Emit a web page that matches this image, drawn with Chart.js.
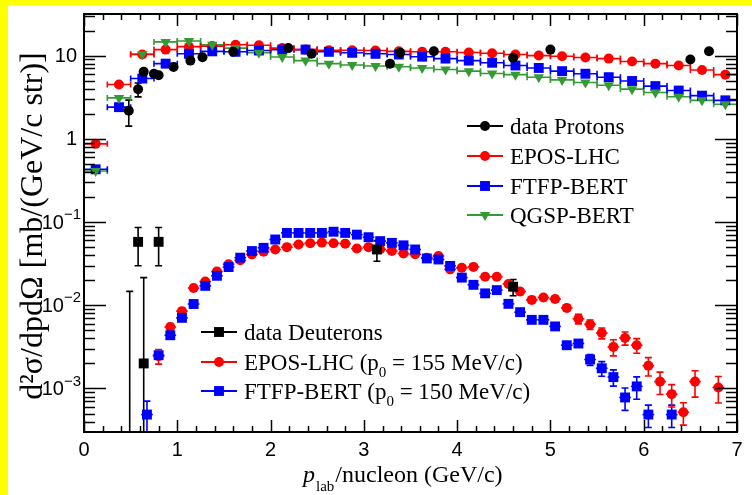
<!DOCTYPE html>
<html>
<head>
<meta charset="utf-8">
<script src="https://cdn.jsdelivr.net/npm/chart.js@4.4.0/dist/chart.umd.min.js"></script>
<style>
  html, body { margin: 0; padding: 0; background: #fff; }
</style>
</head>
<body>
<canvas id="chart" width="752" height="495"></canvas>
<script>
// ---- data ----

// proton bins, 0.25 GeV/c wide
const protonBins = [0.125, 0.375, 0.625, 0.875, 1.125, 1.375, 1.625, 1.875, 2.125, 2.375, 2.625, 2.875, 3.125, 3.375,
  3.625, 3.875, 4.125, 4.375, 4.625, 4.875, 5.125, 5.375, 5.625, 5.875, 6.125, 6.375, 6.625, 6.875];
const eposProton = [0.87, 4.5, 10.3, 11.8, 12.8, 13.0, 13.5, 13.3, 12.3, 11.8, 11.6, 11.6, 11.5, 11.25,
  11.1, 11.1, 10.9, 10.65, 10.3, 10.0, 9.8, 9.5, 9.2, 8.5, 8.0, 7.6, 6.7, 5.9];
const ftfpProton = [0.43, 2.4, 5.3, 8.0, 10.5, 11.25, 11.1, 11.5, 11.8, 11.8, 11.1, 10.8, 10.5, 10.3,
  9.7, 9.2, 8.7, 8.2, 7.6, 7.1, 6.5, 6.05, 5.5, 4.95, 4.3, 3.8, 3.3, 2.9];
const qgspProton = [0.41, 3.1, 10.4, 14.6, 15.0, 13.5, 12.3, 10.8, 9.6, 8.7, 8.0, 7.7, 7.5, 7.35,
  7.1, 6.8, 6.5, 6.1, 5.9, 5.5, 5.1, 4.75, 4.4, 3.95, 3.6, 3.2, 2.9, 2.6];

const dataProtonP = [0.48, 0.58, 0.64, 0.75, 0.80, 0.96, 1.14, 1.27, 1.60, 2.19, 2.44, 3.28, 3.39, 3.75, 4.60, 5.00, 6.50, 6.70];
const dataProtonV = [2.17, 3.94, 6.4, 6.05, 5.8, 7.3, 8.7, 9.55, 11.1, 12.3, 10.5, 8.0, 10.8, 11.25, 9.4, 11.8, 8.96, 11.25];
const dataProtonErr = [0.75, 0.75, 0.3, 0.3, 0.3, 0.3, 0.3, 0.3, 0.3, 0.3, 0.3, 0.3, 0.3, 0.3, 0.3, 0.3, 0.3, 0.3];

// deuteron bins, 0.125 GeV/c wide
const deutBins = [0.675, 0.8, 0.925, 1.05, 1.175, 1.3, 1.425, 1.55, 1.675, 1.8, 1.925, 2.05, 2.175, 2.3, 2.425,
  2.55, 2.675, 2.8, 2.925, 3.05, 3.175, 3.3, 3.425, 3.55, 3.675, 3.8, 3.925, 4.05, 4.175, 4.3, 4.425, 4.55,
  4.675, 4.8, 4.925, 5.05, 5.175, 5.3, 5.425, 5.55, 5.675, 5.8, 5.925, 6.05, 6.175, 6.3, 6.425, 6.55, 6.675, 6.8];
const eposDeut = [null, 0.00245, 0.00547, 0.0085, 0.0161, 0.0193, 0.0254, 0.031, 0.0347, 0.0409, 0.044, 0.0468,
  0.0499, 0.0537, 0.0557, 0.0566, 0.0557, 0.055, 0.048, 0.0499, 0.047, 0.0448, 0.0418, 0.041, 0.0373, 0.039,
  0.027, 0.0282, 0.0289, 0.022, 0.022, 0.018, 0.0146, 0.0116, 0.0124, 0.0119, 0.0093, 0.00687, 0.00589,
  0.00464, 0.00316, 0.00405, 0.00331, 0.00188, 0.00121, 0.000855, 0.000518, 0.00121, null, 0.00103];
const eposDeutRelErr = [0, 0.2, 0.1, 0.05, 0.05, 0.05, 0.05, 0.05, 0.05, 0.05, 0.05, 0.05,
  0.05, 0.05, 0.05, 0.05, 0.05, 0.05, 0.05, 0.05, 0.05, 0.05, 0.05, 0.05, 0.05, 0.05,
  0.05, 0.05, 0.05, 0.06, 0.06, 0.08, 0.08, 0.08, 0.08, 0.08, 0.08, 0.13, 0.13,
  0.15, 0.22, 0.18, 0.2, 0.25, 0.3, 0.3, 0.3, 0.35, 0, 0.35];
const ftfpDeut = [0.000486, 0.00251, 0.00436, 0.00706, 0.01035, 0.0171, 0.0226, 0.0288, 0.0373, 0.0448, 0.049,
  0.0617, 0.074, 0.074, 0.074, 0.074, 0.0765, 0.074, 0.0706, 0.0657, 0.059, 0.0562, 0.0525, 0.0468, 0.0365,
  0.0355, 0.0297, 0.0215, 0.0176, 0.0139, 0.0152, 0.0104, 0.00826, 0.00668, 0.00668, 0.00557, 0.00331,
  0.00347, 0.00223, 0.00175, 0.00137, 0.00078, 0.00106, 0.000486, null, 0.000486, null, null, null, null];
const ftfpDeutRelErr = [0.45, 0.1, 0.05, 0.05, 0.05, 0.05, 0.05, 0.05, 0.05, 0.05, 0.05,
  0.05, 0.05, 0.05, 0.05, 0.05, 0.05, 0.05, 0.05, 0.05, 0.05, 0.05, 0.05, 0.05, 0.05,
  0.05, 0.05, 0.05, 0.05, 0.06, 0.06, 0.06, 0.06, 0.06, 0.06, 0.06, 0.08,
  0.08, 0.15, 0.2, 0.22, 0.3, 0.3, 0.3, 0, 0.3, 0, 0, 0, 0];

const dataDeutP = [0.49, 0.58, 0.64, 0.80, 3.14, 4.60];
const dataDeutV = [0.0002, 0.0578, 0.0020, 0.0578, 0.0468, 0.0167];
const dataDeutErr = [0.0145, 0.028, 0.0195, 0.028, 0.013, 0.0037];

// axes
const xRange = [0, 7];
const yRange = [3.35e-4, 31.6];
const xTickLabels = ['0', '1', '2', '3', '4', '5', '6', '7'];
const yTickValues = [10, 1, 0.1, 0.01, 0.001];
const yTickBase = ['10', '1', '10', '10', '10'];
const yTickExp = ['', '', '\u22121', '\u22122', '\u22123'];

const RED = '#ff0000', BLUE = '#0000ff', GREEN = '#349a34', BLACK = '#000000';
const SERIF = '"Liberation Serif", "Times New Roman", serif';
const SANS = '"Liberation Sans", Arial, sans-serif';

function points(xs, ys) {
  return xs.map((x, i) => ({ x: x, y: ys[i] }));
}

// ---- drawing helpers ----
function marker(ctx, style, x, y, r, color) {
  ctx.fillStyle = color;
  ctx.beginPath();
  if (style === 'circle') {
    ctx.arc(x, y, r, 0, Math.PI * 2);
  } else if (style === 'rect') {
    const h = r * Math.SQRT1_2;
    ctx.rect(x - h, y - h, 2 * h, 2 * h);
  } else {
    // downward triangle
    ctx.moveTo(x - r * 0.866, y - r * 0.5);
    ctx.lineTo(x + r * 0.866, y - r * 0.5);
    ctx.lineTo(x, y + r);
    ctx.closePath();
  }
  ctx.fill();
}

function drawErrorBars(chart) {
  const { ctx, chartArea: a } = chart;
  const xs = chart.scales.x, ys = chart.scales.y;
  ctx.save();
  ctx.beginPath();
  ctx.rect(a.left, a.top, a.right - a.left, a.bottom - a.top);
  ctx.clip();
  chart.data.datasets.forEach(ds => {
    ctx.strokeStyle = ds.borderColor;
    ctx.lineWidth = 1.6;
    ds.data.forEach((pt, i) => {
      if (pt.y == null) return;
      const px = xs.getPixelForValue(pt.x);
      const py = ys.getPixelForValue(pt.y);
      if (ds.xErr) {
        const x1 = xs.getPixelForValue(pt.x - ds.xErr), x2 = xs.getPixelForValue(pt.x + ds.xErr);
        ctx.beginPath();
        ctx.moveTo(x1, py); ctx.lineTo(x2, py);
        if (ds.xCaps) {
          ctx.moveTo(x1, py - 3); ctx.lineTo(x1, py + 3);
          ctx.moveTo(x2, py - 3); ctx.lineTo(x2, py + 3);
        }
        ctx.stroke();
      }
      let lo = null, hi = null;
      if (ds.yErr) { lo = pt.y - ds.yErr[i]; hi = pt.y + ds.yErr[i]; }
      if (ds.yRel && ds.yRel[i]) { lo = pt.y * (1 - ds.yRel[i]); hi = pt.y * (1 + ds.yRel[i]); }
      if (hi != null) {
        const yHi = ys.getPixelForValue(hi);
        const yLo = lo > 0 ? ys.getPixelForValue(lo) : a.bottom + 5;
        ctx.beginPath();
        ctx.moveTo(px, yLo); ctx.lineTo(px, yHi);
        ctx.moveTo(px - 3.5, yHi); ctx.lineTo(px + 3.5, yHi);
        if (lo > 0) { ctx.moveTo(px - 3.5, yLo); ctx.lineTo(px + 3.5, yLo); }
        ctx.stroke();
      }
    });
  });
  ctx.restore();
}

function drawFrame(chart) {
  const { ctx, chartArea: a } = chart;
  const xs = chart.scales.x, ys = chart.scales.y;
  ctx.save();
  ctx.strokeStyle = '#000';
  ctx.lineWidth = 2;
  ctx.strokeRect(a.left, a.top, a.right - a.left, a.bottom - a.top);

  ctx.lineWidth = 1.5;
  ctx.beginPath();
  // x ticks, bottom and top, pointing inwards
  for (let k = 0; k <= 35; k++) {
    const v = xRange[0] + k * 0.2;
    const px = Math.round(xs.getPixelForValue(v)) + 0.5;
    const major = k % 5 === 0;
    const len = major ? 12 : 6;
    ctx.moveTo(px, a.bottom); ctx.lineTo(px, a.bottom - len);
    ctx.moveTo(px, a.top); ctx.lineTo(px, a.top + len);
  }
  // y ticks, left and right
  for (let e = -4; e <= 1; e++) {
    for (let m = 1; m <= 9; m++) {
      const v = m * Math.pow(10, e);
      if (v < yRange[0] || v > yRange[1]) continue;
      const py = Math.round(ys.getPixelForValue(v)) + 0.5;
      const len = m === 1 ? 22 : 11;
      ctx.moveTo(a.left, py); ctx.lineTo(a.left + len, py);
      ctx.moveTo(a.right, py); ctx.lineTo(a.right - len, py);
    }
  }
  ctx.stroke();
  ctx.restore();
}

function drawAxisText(chart) {
  const { ctx, chartArea: a } = chart;
  const xs = chart.scales.x, ys = chart.scales.y;
  ctx.save();
  ctx.fillStyle = '#000';

  // x tick labels
  ctx.font = '20px ' + SANS;
  ctx.textAlign = 'center';
  ctx.textBaseline = 'middle';
  xTickLabels.forEach((t, i) => {
    ctx.fillText(t, xs.getPixelForValue(i), a.bottom + 18);
  });

  // y tick labels with exponents
  ctx.textAlign = 'right';
  yTickValues.forEach((v, i) => {
    const py = ys.getPixelForValue(v);
    if (yTickExp[i]) {
      ctx.font = '15px ' + SANS;
      const ew = ctx.measureText(yTickExp[i]).width;
      ctx.fillText(yTickExp[i], 81, py - 7);
      ctx.font = '20px ' + SANS;
      ctx.fillText(yTickBase[i], 81 - ew, py + 1);
    } else {
      ctx.font = '20px ' + SANS;
      ctx.fillText(yTickBase[i], 77, py + 1);
    }
  });

  // x title: p_lab/nucleon (GeV/c)
  ctx.textAlign = 'left';
  ctx.textBaseline = 'alphabetic';
  let x = 303;
  const base = 482;
  ctx.font = 'italic 24px ' + SERIF;
  ctx.fillText('p', x, base);
  x += ctx.measureText('p').width + 1;
  ctx.font = '15px ' + SERIF;
  ctx.fillText('lab', x, base + 9);
  x += ctx.measureText('lab').width + 1;
  ctx.font = '24px ' + SERIF;
  ctx.fillText('/nucleon (GeV/c)', x, base);

  // y title
  ctx.save();
  ctx.translate(34, 226);
  ctx.rotate(-Math.PI / 2);
  ctx.textAlign = 'center';
  ctx.textBaseline = 'middle';
  ctx.font = '32px ' + SERIF;
  ctx.fillText('d\u00b2\u03c3/dpd\u03a9 [mb/(GeV/c str)]', 0, 0);
  ctx.restore();

  ctx.restore();
}

function legendRow(ctx, x1, x2, y, color, style, r, parts) {
  ctx.strokeStyle = color;
  ctx.lineWidth = 2;
  ctx.beginPath();
  ctx.moveTo(x1, y); ctx.lineTo(x2, y);
  ctx.stroke();
  marker(ctx, style, (x1 + x2) / 2, y, r, color);
  ctx.fillStyle = '#000';
  ctx.textAlign = 'left';
  ctx.textBaseline = 'alphabetic';
  let x = x2 + 7;
  parts.forEach(p => {
    ctx.font = (p.sub ? '15px ' : '23px ') + SERIF;
    ctx.fillText(p.t, x, y + (p.sub ? 15 : 8));
    x += ctx.measureText(p.t).width;
  });
}

function drawLegends(chart) {
  const ctx = chart.ctx;
  ctx.save();
  legendRow(ctx, 467, 503, 126, BLACK, 'circle', 5, [{ t: 'data Protons' }]);
  legendRow(ctx, 467, 503, 156, RED, 'circle', 5, [{ t: 'EPOS-LHC' }]);
  legendRow(ctx, 467, 503, 186, BLUE, 'rect', 7, [{ t: 'FTFP-BERT' }]);
  legendRow(ctx, 467, 503, 215, GREEN, 'triangle', 6, [{ t: 'QGSP-BERT' }]);

  legendRow(ctx, 201, 237, 332, BLACK, 'rect', 7, [{ t: 'data Deuterons' }]);
  legendRow(ctx, 201, 237, 362, RED, 'circle', 5,
    [{ t: 'EPOS-LHC (p' }, { t: '0', sub: true }, { t: ' = 155 MeV/c)' }]);
  legendRow(ctx, 201, 237, 391, BLUE, 'rect', 7,
    [{ t: 'FTFP-BERT (p' }, { t: '0', sub: true }, { t: ' = 150 MeV/c)' }]);
  ctx.restore();
}

const rootStyle = {
  id: 'rootStyle',
  beforeDraw(chart) {
    const ctx = chart.ctx;
    ctx.save();
    ctx.fillStyle = '#ffff00';
    ctx.fillRect(0, 0, chart.width, chart.height);
    ctx.fillStyle = '#ffffff';
    ctx.fillRect(8, 5, chart.width - 8, chart.height - 5);
    ctx.restore();
  },
  beforeDatasetsDraw(chart) {
    drawErrorBars(chart);
  },
  afterDatasetsDraw(chart) {
    drawFrame(chart);
    drawAxisText(chart);
    drawLegends(chart);
  }
};

function series(label, data, color, style, radius, extra) {
  return Object.assign({
    label: label,
    data: data,
    showLine: false,
    borderColor: color,
    backgroundColor: color,
    pointBackgroundColor: color,
    pointBorderColor: color,
    pointBorderWidth: 0,
    pointStyle: style,
    pointRadius: radius,
    pointRotation: style === 'triangle' ? 180 : 0
  }, extra);
}

const ctx = document.getElementById('chart');
new Chart(ctx, {
  type: 'scatter',
  data: {
    datasets: [
      series('data Protons', points(dataProtonP, dataProtonV), BLACK, 'circle', 5, { yErr: dataProtonErr, order: 0 }),
      series('data Deuterons', points(dataDeutP, dataDeutV), BLACK, 'rect', 7, { yErr: dataDeutErr, order: 0 }),
      series('QGSP-BERT', points(protonBins, qgspProton), GREEN, 'triangle', 6, { xErr: 0.125, xCaps: true, order: 1 }),
      series('FTFP-BERT', points(protonBins, ftfpProton), BLUE, 'rect', 7, { xErr: 0.125, xCaps: true, order: 2 }),
      series('FTFP-BERT deut', points(deutBins, ftfpDeut), BLUE, 'rect', 7, { xErr: 0.0625, yRel: ftfpDeutRelErr, order: 2 }),
      series('EPOS-LHC', points(protonBins, eposProton), RED, 'circle', 5, { xErr: 0.125, xCaps: true, order: 3 }),
      series('EPOS-LHC deut', points(deutBins, eposDeut), RED, 'circle', 5, { xErr: 0.0625, yRel: eposDeutRelErr, order: 3 })
    ]
  },
  options: {
    responsive: false,
    animation: false,
    layout: { padding: { top: 14, right: 15, left: 0, bottom: 0 } },
    plugins: { legend: { display: false }, tooltip: { enabled: false } },
    scales: {
      x: {
        type: 'linear', min: xRange[0], max: xRange[1],
        grid: { display: false }, border: { display: false }, ticks: { display: false },
        afterFit: s => { s.height = 63; }
      },
      y: {
        type: 'logarithmic', min: yRange[0], max: yRange[1],
        grid: { display: false }, border: { display: false }, ticks: { display: false },
        afterFit: s => { s.width = 84; }
      }
    }
  },
  plugins: [rootStyle]
});
</script>
</body>
</html>
